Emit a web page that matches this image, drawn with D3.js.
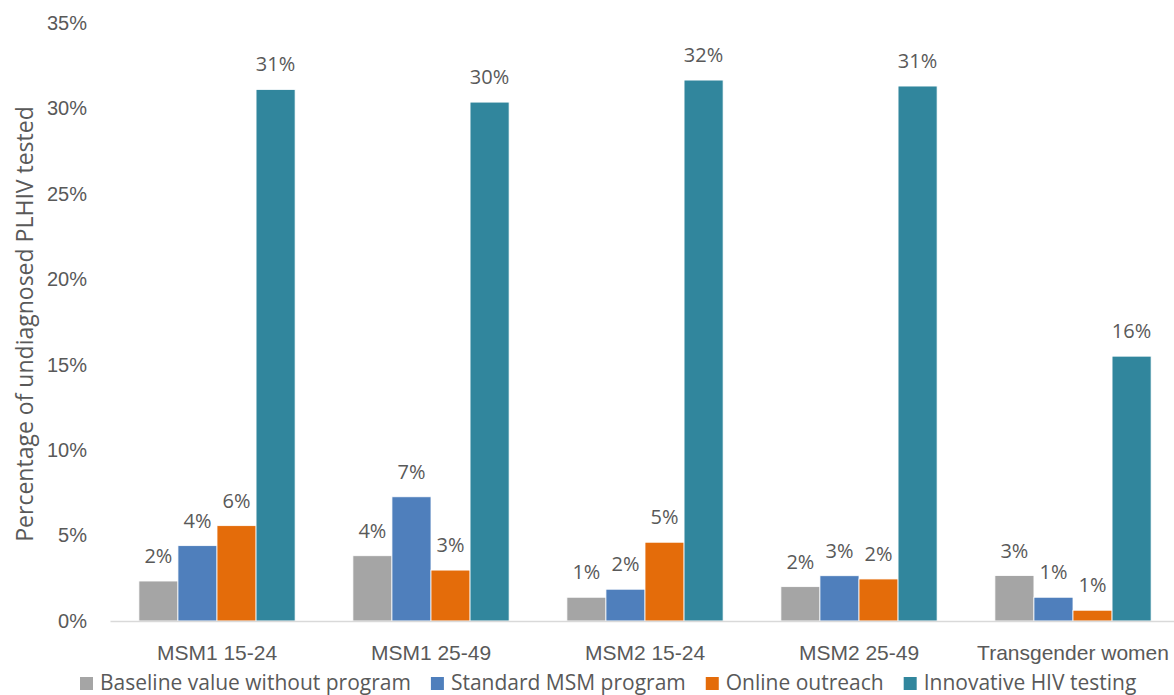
<!DOCTYPE html>
<html>
<head>
<meta charset="utf-8">
<script src="https://cdn.jsdelivr.net/npm/d3@7"></script>
<style>
  html, body { margin: 0; padding: 0; background: #fff; }
  svg { display: block; font-family: "Open Sans", "Noto Sans", sans-serif; }
</style>
</head>
<body>
<svg id="chart" width="1174" height="695"></svg>
<script>
// Groups along the x axis
const categories = ["MSM1 15-24", "MSM1 25-49", "MSM2 15-24", "MSM2 25-49", "Transgender women"];

// Series names and their share of undiagnosed PLHIV tested, per group
const seriesNames = ["Baseline value without program", "Standard MSM program", "Online outreach", "Innovative HIV testing"];
const baseline   = [0.0234, 0.0382, 0.0139, 0.0201, 0.0266];
const standard   = [0.0441, 0.0727, 0.0186, 0.0265, 0.0139];
const online     = [0.0558, 0.0298, 0.0461, 0.0246, 0.0063];
const innovative = [0.3111, 0.3037, 0.3166, 0.3131, 0.1550];
const seriesValues = [baseline, standard, online, innovative];

const seriesColors = ["#A5A5A5", "#4F7FBC", "#E46C0A", "#31869D"];
const yTicks = [0, 0.05, 0.10, 0.15, 0.20, 0.25, 0.30, 0.35];

const textColor = "#595959";
const svg = d3.select("#chart");
const fmt = d3.format(".0%");

const x0 = d3.scaleBand().domain(categories).range([110, 1180]).paddingInner(0.27).paddingOuter(0.135);
const x1 = d3.scaleBand().domain(seriesNames).range([0, x0.bandwidth()]);
const y = d3.scaleLinear().domain([0, 0.35]).range([621, 23]);

// Y axis tick labels (no axis line)
const yAxis = svg.append("g")
  .attr("transform", "translate(110,0)")
  .call(d3.axisLeft(y).tickValues(yTicks).tickFormat(fmt).tickSize(0).tickPadding(23));
yAxis.select(".domain").remove();
yAxis.selectAll("text").attr("fill", textColor).style("font-size", "20px").style("font-family", "inherit");

// Y axis title
svg.append("text")
  .attr("transform", "translate(24,324) rotate(-90)")
  .attr("text-anchor", "middle")
  .attr("dominant-baseline", "central")
  .attr("fill", textColor)
  .style("font-size", "23px")
  .text("Percentage of undiagnosed PLHIV tested");

// Bars and value labels
const groups = svg.append("g").selectAll("g")
  .data(categories)
  .join("g")
  .attr("transform", d => "translate(" + x0(d) + ",0)");

const cells = groups.selectAll("g")
  .data((c, ci) => seriesNames.map((s, si) => ({ series: s, si, value: seriesValues[si][ci] })))
  .join("g");

cells.append("rect")
  .attr("x", d => x1(d.series))
  .attr("y", d => y(d.value))
  .attr("width", x1.bandwidth())
  .attr("height", d => y(0) - y(d.value))
  .attr("fill", d => seriesColors[d.si])
  .attr("stroke", "#ffffff")
  .attr("stroke-width", 0.8);

cells.append("text")
  .attr("x", d => x1(d.series) + x1.bandwidth() / 2)
  .attr("y", d => y(d.value) - 18)
  .attr("text-anchor", "middle")
  .attr("fill", textColor)
  .style("font-size", "20px")
  .text(d => fmt(d.value));

// X axis baseline and category labels
const xAxis = svg.append("g")
  .attr("transform", "translate(0," + y(0) + ")")
  .call(d3.axisBottom(x0).tickSize(0));
xAxis.select(".domain").attr("stroke", "#D9D9D9").attr("stroke-width", 1.3);
xAxis.selectAll("text")
  .attr("y", 39)
  .attr("dy", null)
  .attr("fill", textColor)
  .style("font-size", "21px")
  .style("font-family", "inherit");

// Legend along the bottom edge
const legend = svg.append("g").attr("transform", "translate(80,690)");
let lx = 0;
seriesNames.forEach((name, i) => {
  const item = legend.append("g").attr("transform", "translate(" + lx + ",0)");
  item.append("rect").attr("x", 0).attr("y", -13).attr("width", 13).attr("height", 13).attr("fill", seriesColors[i]);
  const t = item.append("text")
    .attr("x", 20)
    .attr("y", 0)
    .attr("fill", textColor)
    .style("font-size", "21px")
    .text(name);
  lx += 20 + t.node().getComputedTextLength() + 20;
});
</script>
</body>
</html>
